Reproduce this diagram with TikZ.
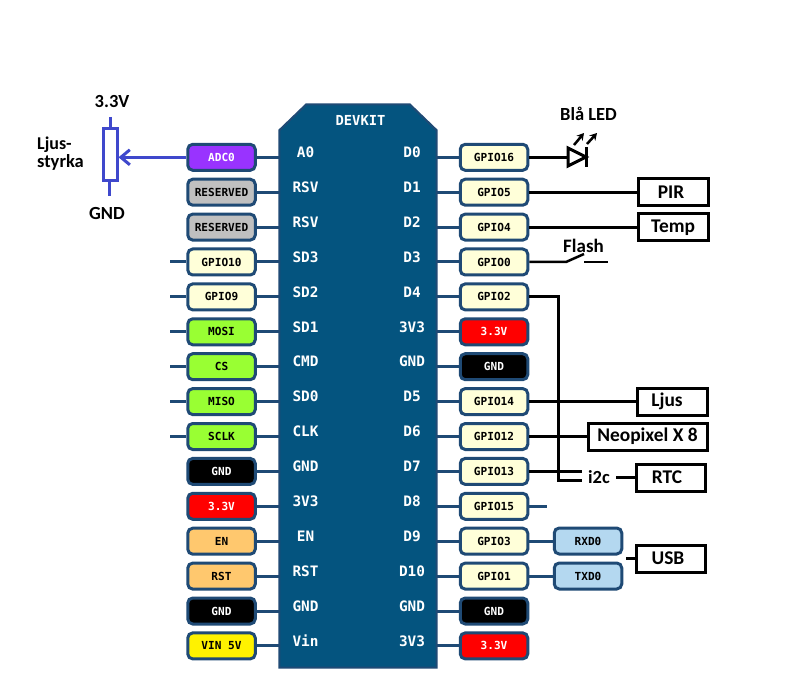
\documentclass[tikz,border=0pt]{standalone}
\usepackage{fontspec}
\setmainfont{Carlito}
\newfontfamily\pinfont{DejaVu Sans Mono}
\usetikzlibrary{arrows.meta}
\definecolor{chipfill}{HTML}{04547F}
\definecolor{edgeblue}{HTML}{1F4A75}
\definecolor{gpiofill}{HTML}{FFFFD9}
\definecolor{resfill}{HTML}{C0C0C0}
\definecolor{adcfill}{HTML}{9933FF}
\definecolor{spifill}{HTML}{99FF33}
\definecolor{enfill}{HTML}{FFC86E}
\definecolor{uartfill}{HTML}{B4D8F0}
\definecolor{potblue}{HTML}{3F48CC}
\tikzset{
  x=1pt,y=-1pt,
  pill/.style={draw=edgeblue,line width=3pt,rounded corners=5pt,minimum width=67.5pt,minimum height=26pt,inner sep=0pt,font=\pinfont\bfseries\fontsize{11.1}{12}\selectfont},
  gpio/.style={pill,fill=gpiofill,text=black},
  res/.style={pill,fill=resfill,text=black},
  adc/.style={pill,fill=adcfill,text=white},
  spi/.style={pill,fill=spifill,text=black},
  gnd/.style={pill,fill=black,text=white},
  pwr/.style={pill,fill=red,text=white},
  en/.style={pill,fill=enfill,text=black},
  vin/.style={pill,fill=yellow,text=black},
  uart/.style={pill,fill=uartfill,text=black},
  chipbox/.style={draw=none,minimum width=157pt,minimum height=563pt,inner sep=0pt},
  chipshape/.style={draw=edgeblue,line width=2pt,fill=chipfill},
  chiplabel/.style={text=white,font=\pinfont\bfseries\fontsize{14.4}{16}\selectfont,inner sep=0pt},
  pinline/.style={draw=edgeblue,line width=3pt},
  wire/.style={draw=black,line width=3pt},
  devbox/.style={draw=black,line width=3pt,fill=white,inner sep=0pt,font=\bfseries\fontsize{19.4}{21}\selectfont},
  txt/.style={inner sep=0pt,font=\bfseries\fontsize{18.5}{19}\selectfont,text=black,align=left},
  potline/.style={draw=potblue,line width=3pt}
}
\begin{document}
\begin{tikzpicture}
\useasboundingbox (0,0) rectangle (800,700);
\node[chipbox] (chip) at (358,386) {};
\draw[chipshape] ([yshift=-26pt]chip.north west) -- ([xshift=27pt]chip.north west) -- ([xshift=-27pt]chip.north east) -- ([yshift=-26pt]chip.north east) -- (chip.south east) -- (chip.south west) -- cycle;
\node[chiplabel] (title) at (360.5,120) {\fontsize{13.8}{15}\selectfont DEVKIT};

% left column
\foreach \i/\lab/\sty/\txt in {1/A0/adc/ADC0,2/RSV/res/RESERVED,3/RSV/res/RESERVED,4/SD3/gpio/GPIO10,5/SD2/gpio/GPIO9,6/SD1/spi/MOSI,7/CMD/spi/CS,8/SD0/spi/MISO,9/CLK/spi/SCLK,10/GND/gnd/GND,11/3V3/pwr/3.3V,12/EN/en/EN,13/RST/en/RST,14/GND/gnd/GND,15/Vin/vin/VIN 5V}{
  \pgfmathsetmacro{\yy}{157.3+34.9*(\i-1)}
  \node[\sty] (L\i) at (221.5,\yy) {\txt};
  \node[chiplabel] (CL\i) at (305.5,\yy-5) {\lab};
  \draw[pinline] (L\i.east) -- (L\i.east -| chip.west);
}
% right column
\foreach \i/\lab/\sty/\txt in {1/D0/gpio/GPIO16,2/D1/gpio/GPIO5,3/D2/gpio/GPIO4,4/D3/gpio/GPIO0,5/D4/gpio/GPIO2,6/3V3/pwr/3.3V,7/GND/gnd/GND,8/D5/gpio/GPIO14,9/D6/gpio/GPIO12,10/D7/gpio/GPIO13,11/D8/gpio/GPIO15,12/D9/gpio/GPIO3,13/D10/gpio/GPIO1,14/GND/gnd/GND,15/3V3/pwr/3.3V}{
  \pgfmathsetmacro{\yy}{157.3+34.9*(\i-1)}
  \node[\sty] (R\i) at (494,\yy) {\txt};
  \node[chiplabel] (CR\i) at (412,\yy-5) {\lab};
  \draw[pinline] (R\i.west) -- (R\i.west -| chip.east);
}
% stubs
\foreach \i in {4,5,6,7,8,9}{
  \coordinate (S\i) at (170,{157.3+34.9*(\i-1)});
  \draw[pinline] (L\i.west) -- (S\i);
}
\coordinate (S15) at (547,506);
\draw[pinline] (R11.east) -- (S15 |- R11.east);

% UART
\node[uart] (rxd) at (588,541) {RXD0};
\node[uart] (txd) at (588,576) {TXD0};
\draw[pinline] (R12.east) -- (rxd.west |- R12.east);
\draw[pinline] (R13.east) -- (txd.west |- R13.east);

% potentiometer
\node[draw=potblue,line width=3pt,fill=white,minimum width=14pt,minimum height=52pt,inner sep=0pt] (pot) at (110,155) {};
\coordinate (pottop) at (110,117);
\coordinate (potbot) at (109,196);
\draw[potline] (pottop) -- (pot.north);
\draw[potline] (potbot) -- (pot.south -| potbot);
\draw[potline,-{Straight Barb[length=9pt,width=15pt,line width=3pt]}] (L1.west) -- (L1.west -| pot.east);
\node[txt] (v33) at (112,102) {3.3V};
\node[txt] (gndt) at (107,213) {GND};
\node[txt] (ljusstyrka) at (60.5,154) {\fontsize{18}{17}\selectfont Ljus-\\[-1pt]styrka};

% devices
\node[devbox,minimum width=70pt,minimum height=27pt] (pir) at (673,192.5) {PIR\kern4pt};
\node[devbox,minimum width=70pt,minimum height=27pt] (temp) at (673,227.5) {Temp};
\node[devbox,minimum width=70pt,minimum height=27pt] (ljus) at (672,401.5) {Ljus\kern10pt};
\node[devbox,minimum width=119pt,minimum height=27pt] (neo) at (647.5,436.5) {Neopixel X 8};
\node[devbox,minimum width=69pt,minimum height=27pt] (rtc) at (670.5,477.5) {RTC\kern7pt};
\node[devbox,minimum width=69pt,minimum height=27pt] (usb) at (670.5,558.5) {USB\kern5pt};
\node[txt] (i2c) at (599,477) {i2c};
\draw[wire] (R2.east) -- (pir.west |- R2.east);
\draw[wire] (R3.east) -- (temp.west |- R3.east);
\draw[wire] (R8.east) -- (ljus.west |- R8.east);
\draw[wire] (R9.east) -- (neo.west |- R9.east);
\draw[wire] (R5.east) -| (558,480) -- (582,480);
\draw[wire] (R10.east) -- (582,471 |- R10.east);
\coordinate (i2cout) at (616,477);
\draw[wire] (i2cout) -- (rtc.west |- i2cout);
\coordinate (usbstub) at (626,558.5);
\draw[wire] (usbstub) -- (usb.west);

% LED
\node[txt] (led) at (588.5,114) {Blå LED};
\coordinate (ledin) at (568,157);
\coordinate (ledtip) at (586,157);
\draw[wire] (R1.east) -- (ledin |- R1.east);
\draw[wire,line join=miter] (568,148) -- (ledtip) -- (568,166) -- cycle;
\draw[wire] (586,147) -- (586,167);
\draw[black,line width=2.5pt,-{Stealth[length=7pt,width=8pt]}] (574,145) -- (584,133);
\draw[black,line width=2.5pt,-{Stealth[length=7pt,width=8pt]}] (587,144) -- (597,133);

% switch
\node[txt] (flash) at (583.5,246) {\fontsize{19}{20}\selectfont Flash};
\coordinate (swa) at (566,262);
\coordinate (swb) at (584,254);
\coordinate (swc) at (584,262);
\coordinate (swd) at (608,262);
\draw[wire,line width=2.5pt] (R4.east) -- (swa |- R4.east) -- (swb);
\draw[wire,line width=2.5pt] (swc |- R4.east) -- (swd |- R4.east);
\end{tikzpicture}
\end{document}
